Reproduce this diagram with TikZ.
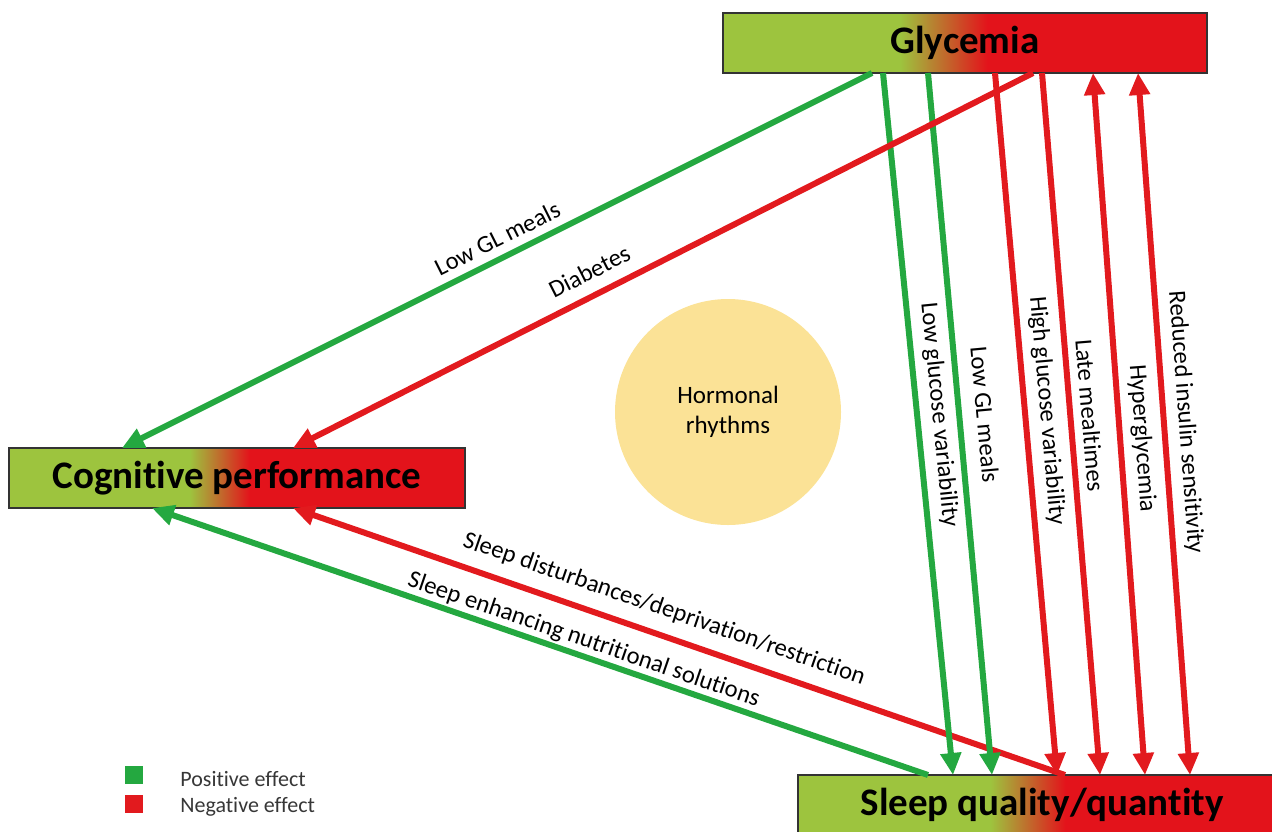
\documentclass[tikz,border=0pt]{standalone}
\usepackage{fontspec}
\setmainfont{Carlito}[Ligatures={NoCommon}]
\usetikzlibrary{arrows.meta,calc}

\definecolor{boxgreen}{RGB}{157,196,62}
\definecolor{boxred}{RGB}{227,19,27}
\definecolor{posgreen}{RGB}{36,168,64}
\definecolor{negred}{RGB}{226,26,30}
\definecolor{hormyellow}{RGB}{251,226,150}
\definecolor{keygray}{RGB}{55,55,55}

\pgfdeclarehorizontalshading{glyshade}{100bp}{color(0bp)=(boxgreen); color(43.3bp)=(boxgreen); color(52.3bp)=(boxred); color(100bp)=(boxred)}
\pgfdeclarehorizontalshading{cogshade}{100bp}{color(0bp)=(boxgreen); color(44.8bp)=(boxgreen); color(51.4bp)=(boxred); color(100bp)=(boxred)}
\pgfdeclarehorizontalshading{slpshade}{100bp}{color(0bp)=(boxgreen); color(44.7bp)=(boxgreen); color(52.4bp)=(boxred); color(100bp)=(boxred)}

\begin{document}
\begin{tikzpicture}[
x=0.5pt, y=-0.5pt,
factor/.style={
draw=black!80,
line width=0.8pt,
minimum height=30pt,
inner sep=0pt,
outer sep=0pt,
font=\fontsize{19.5}{23}\selectfont\bfseries
},
posarrow/.style={
draw=posgreen,
line width=3pt,
-{Triangle[width=10pt,length=11pt]}
},
negarrow/.style={
draw=negred,
line width=3pt,
-{Triangle[width=10pt,length=11pt]}
},
bothways/.style={
draw=negred,
line width=3pt,
{Triangle[width=10pt,length=11pt]}-{Triangle[width=10pt,length=11pt]}
},
effect/.style={
font=\fontsize{12.3}{14}\selectfont,
sloped,
inner sep=1pt
},
keybox/.style={
minimum size=9pt,
inner sep=0pt
},
keytext/.style={
anchor=west,
inner sep=0pt,
text=keygray,
font=\fontsize{11}{13}\selectfont
}
]

\useasboundingbox (0,0) rectangle (1272,831);
\clip (0,0) rectangle (1272,831);

\node[factor, shading=glyshade, minimum width=242pt] (gly) at (965,43)
{Glycemia};

\node[factor, shading=cogshade, minimum width=228pt] (cog) at (237,478)
{Cognitive performance};

\node[factor, shading=slpshade, minimum width=244pt] (slp) at (1042,805)
{Sleep quality/quantity};

\node[circle, fill=hormyellow, minimum size=113pt, align=center,
font=\fontsize{12.5}{15}\selectfont] (horm) at (728,412)
{Hormonal\\rhythms};

\draw[negarrow] ($(slp.north west)+(267,0)$) -- ($(cog.south west)+(284,0)$)
node[effect, above=5pt, pos=0.53] (ldist) {Sleep disturbances/deprivation/restriction};
\draw[posarrow] ($(slp.north west)+(130,0)$) -- ($(cog.south west)+(143,0)$)
node[effect, above=0pt, pos=0.45] (lenh) {Sleep enhancing nutritional solutions};

\draw[posarrow] ($(gly.south west)+(160,0)$) -- ($(slp.north west)+(155,0)$)
node[effect, above=3pt, pos=0.49] (lvar) {Low glucose variability};
\draw[posarrow] ($(gly.south west)+(205,0)$) -- ($(slp.north west)+(194,0)$)
node[effect, above=6pt, pos=0.49] (lglv) {Low GL meals};
\draw[negarrow] ($(gly.south west)+(272,0)$) -- ($(slp.north west)+(259,0)$)
node[effect, above=3pt, pos=0.484] (lhigh) {High glucose variability};
\draw[negarrow] ($(gly.south west)+(319,0)$) -- ($(slp.north west)+(302,0)$)
node[effect, above=3pt, pos=0.49] (llate) {Late mealtimes};
\draw[bothways] ($(gly.south west)+(370,0)$) -- ($(slp.north west)+(347,0)$)
node[effect, above=3pt, pos=0.523] (lhyp) {Hyperglycemia};
\draw[bothways] ($(gly.south west)+(415,0)$) -- ($(slp.north west)+(392,0)$)
node[effect, above=3pt, pos=0.5] (lins) {Reduced insulin sensitivity};

\draw[posarrow] ($(gly.south west)+(149,0)$) -- ($(cog.north west)+(113,0)$)
node[effect, above=3pt, pos=0.488] (lgl) {Low GL meals};
\draw[negarrow] ($(gly.south west)+(310,0)$) -- ($(cog.north west)+(284,0)$)
node[effect, above=5pt, pos=0.585] (ldiab) {Diabetes};

\node[keybox, fill=posgreen] (kpos) at (134,775) {};
\node[keybox, fill=negred] (kneg) at (134,804) {};
\node[keytext] (kpostxt) at (180,779) {Positive effect};
\node[keytext] (knegtxt) at (180,807) {Negative effect};

\end{tikzpicture}
\end{document}
